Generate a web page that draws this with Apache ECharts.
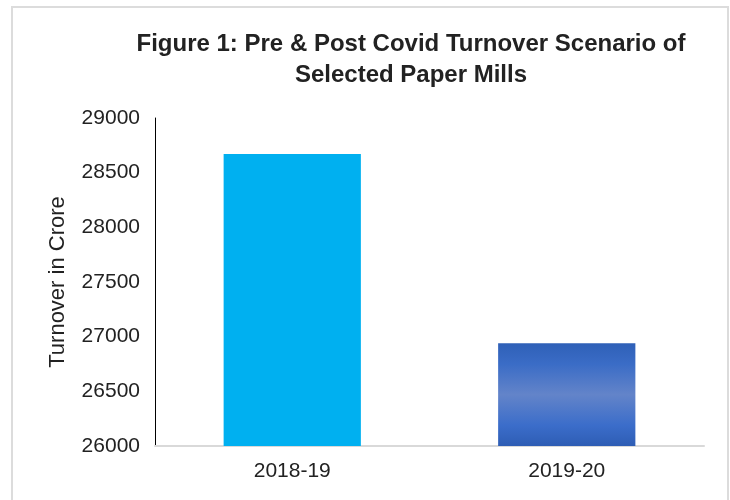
<!DOCTYPE html>
<html>
<head>
<meta charset="utf-8">
<script src="https://cdn.jsdelivr.net/npm/echarts@6/dist/echarts.min.js"></script>
<style>
  html, body { margin: 0; padding: 0; background: #fff; }
  #chart { width: 730px; height: 500px; }
</style>
</head>
<body>
<div id="chart"></div>
<script>
// data
var years = ['2018-19', '2019-20'];
var turnover = [28670, 26940];
var yTicks = [26000, 26500, 27000, 27500, 28000, 28500, 29000];

var chart = echarts.init(document.getElementById('chart'));

var font = '"Liberation Sans", Arial, sans-serif';
var barColors = [
    '#00b0f0',
    new echarts.graphic.LinearGradient(0, 0, 0, 1, [
        {offset: 0, color: '#2f60b7'},
        {offset: 0.2, color: '#3a6cc6'},
        {offset: 0.5, color: '#6384c9'},
        {offset: 0.8, color: '#3b6dca'},
        {offset: 1, color: '#2e5db4'}
    ])
];

var option = {
    backgroundColor: '#fff',
    animation: false,
    title: {
        text: 'Figure 1: Pre & Post Covid Turnover Scenario of\nSelected Paper Mills',
        left: 406,
        top: 24,
        textAlign: 'center',
        textStyle: {
            fontFamily: font,
            fontSize: 24,
            fontWeight: 'bold',
            color: '#222',
            lineHeight: 31
        }
    },
    graphic: [{
        type: 'rect',
        shape: {x: 12, y: 7, width: 716, height: 500},
        style: {fill: 'none', stroke: '#dcdcdc', lineWidth: 2},
        silent: true
    }],
    grid: {
        left: 155,
        right: 26,
        top: 118,
        bottom: 54
    },
    xAxis: {
        type: 'category',
        data: years,
        axisLine: {lineStyle: {color: '#d9d9d9', width: 2}},
        axisTick: {show: false},
        axisLabel: {
            color: '#222',
            fontFamily: font,
            fontSize: 21,
            margin: 15
        }
    },
    yAxis: {
        type: 'value',
        min: yTicks[0],
        max: yTicks[yTicks.length - 1],
        interval: 500,
        name: 'Turnover in Crore',
        nameLocation: 'middle',
        nameGap: 86,
        nameTextStyle: {
            color: '#222',
            fontFamily: font,
            fontSize: 22
        },
        axisLine: {show: true, lineStyle: {color: '#000', width: 1}},
        axisTick: {show: false},
        splitLine: {show: false},
        axisLabel: {
            color: '#222',
            fontFamily: font,
            fontSize: 21,
            margin: 15,
            formatter: function (v) { return String(v); }
        }
    },
    series: [{
        type: 'bar',
        barWidth: '50%',
        data: turnover.map(function (v, i) {
            return {value: v, itemStyle: {color: barColors[i]}};
        })
    }]
};

chart.setOption(option);
</script>
</body>
</html>
